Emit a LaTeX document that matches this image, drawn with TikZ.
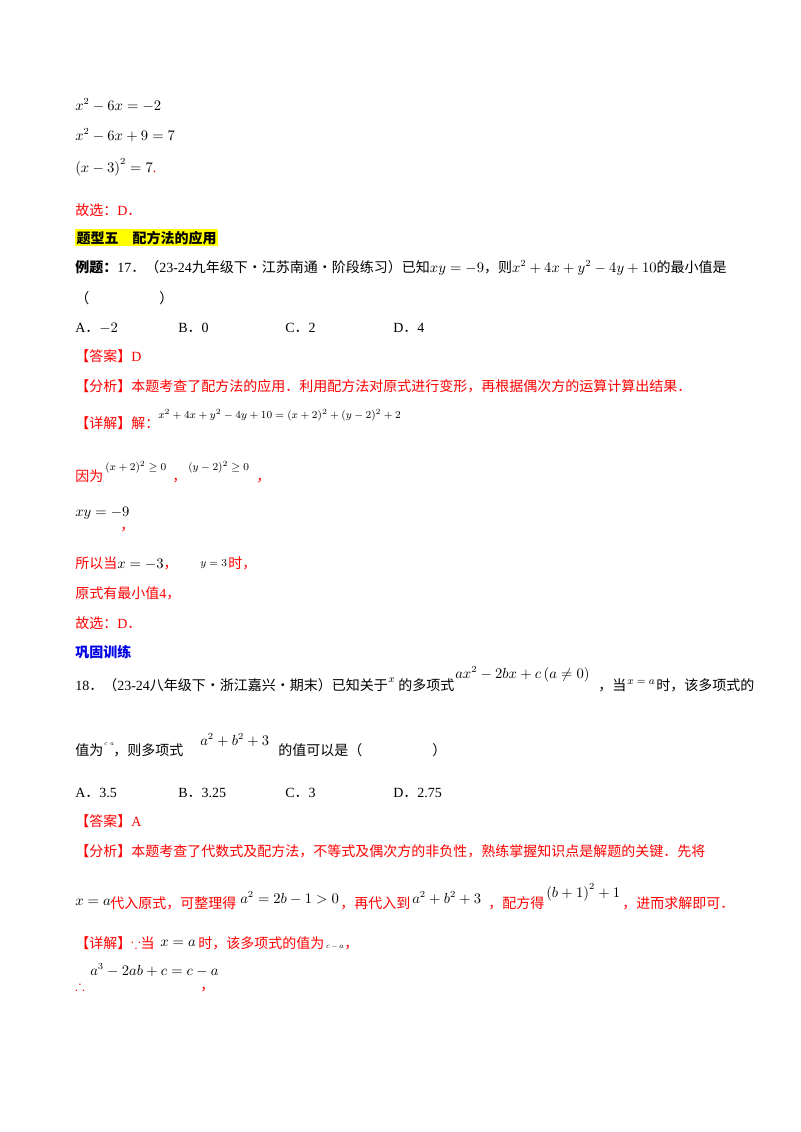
\documentclass[tikz,border=0pt]{standalone}
\usepackage{amssymb}
\usepackage{fontspec}
\setmainfont{Liberation Serif}
\newfontfamily\zh{Noto Sans CJK SC}
\newcommand\zp{{\zh ．}}
\newcommand\zcm{{\zh ，}}
\definecolor{rd}{RGB}{255,0,0}
\definecolor{bl}{RGB}{0,0,230}
\definecolor{hl}{RGB}{255,255,0}
\begin{document}
\begin{tikzpicture}[x=0.75pt,y=-0.75pt,
  t/.style={anchor=base west,inner sep=0pt,font=\fontsize{10.5}{12}\selectfont},
  s/.style={anchor=base west,inner sep=0pt,font=\fontsize{8}{10}\selectfont},
  r/.style={t,text=rd}]
\useasboundingbox (0,0) rectangle (800,1132);
\fill[white] (0,0) rectangle (800,1132);
\node[t] (l1) at (75,110) {$x^2-6x=-2$};
\node[t] (l2) at (75,140) {$x^2-6x+9=7$};
\node[t] (l3) at (75,172) {$\left(x-3\right)^2=7$\textcolor{rd}{.}};
\node[r] (g1) at (75,215) {{\zh 故选：}D\zp};
\node[t,fill=hl,inner sep=1pt] (h1) at (75,243) {\zh\bfseries 题型五\quad 配方法的应用};
\node[t] (q17) at (75,272) {{\zh\bfseries 例题：}17\zp{\zh （}23-24{\zh 九年级下・江苏南通・阶段练习）已知}$xy=-9${\zh ，则}$x^2+4x+y^2-4y+10${\zh 的最小值是}};
\node[t] (p17) at (75,303) {{\zh （}\hspace{5em}{\zh ）}};
\node[t] (a17) at (75,332) {A\zp$-2$};
\node[t] (b17) at (178,332) {B\zp 0};
\node[t] (c17) at (285,332) {C\zp 2};
\node[t] (d17) at (393,332) {D\zp 4};
\node[r] (ans17) at (75,361) {{\zh 【答案】}D};
\node[r] (fx17) at (75,391) {\zh 【分析】本题考查了配方法的应用．利用配方法对原式进行变形，再根据偶次方的运算计算出结果．};
\node[r] (xj17) at (75,428) {\zh 【详解】解：};
\node[s] (f17) at (158,418) {$x^2+4x+y^2-4y+10=(x+2)^2+(y-2)^2+2$};
\node[r] (yw) at (75,481) {\zh 因为};
\node[s] (f2) at (105,470) {$(x+2)^2\geq0$};
\node[r] (cm1) at (172,481) {\zcm};
\node[s] (f3) at (188,470) {$(y-2)^2\geq0$};
\node[r] (cm2) at (256,481) {\zcm};
\node[t] (xy) at (75,516) {$xy=-9$};
\node[r] (cm3) at (120,530) {\zcm};
\node[r] (sy) at (75,568) {{\zh 所以当}\textcolor{black}{$x=-3$}{\zh ，}};
\node[s] (y3) at (200,566) {$y=3$};
\node[r] (sh) at (228,568) {\zh 时，};
\node[r] (zx) at (75,598) {{\zh 原式有最小值}4{\zh ，}};
\node[r] (g2) at (75,628) {{\zh 故选：}D\zp};
\node[t,text=bl] (gg) at (75,657) {\zh\bfseries 巩固训练};
\node[t] (q18) at (75,690) {18\zp{\zh （}23-24{\zh 八年级下·浙江嘉兴·期末）已知关于}};
\node[s] (x18) at (388,682) {$x$};
\node[t] (dx) at (398,690) {\zh 的多项式};
\node[t] (f18) at (455,678) {$ax^2-2bx+c\left(a\neq0\right)$};
\node[t] (d18) at (598,690) {\zh ，当};
\node[s] (xa) at (627,684) {$x=a$};
\node[t] (s18) at (656,690) {\zh 时，该多项式的};
\node[t] (zw) at (75,755) {\zh 值为};
\node[s] (ca) at (104,745) {\scalebox{0.6}{$c\ \ a$}};
\node[t] (zd) at (113,755) {\zh ，则多项式};
\node[t] (ab) at (200,745) {$a^2+b^2+3$};
\node[t] (kz) at (278,755) {{\zh 的值可以是（}\hspace{5em}{\zh ）}};
\node[t] (a18) at (75,797) {A\zp 3.5};
\node[t] (b18) at (178,797) {B\zp 3.25};
\node[t] (c18) at (285,797) {C\zp 3};
\node[t] (d18b) at (393,797) {D\zp 2.75};
\node[r] (ans18) at (75,826) {{\zh 【答案】}A};
\node[r] (fx18) at (75,856) {\zh 【分析】本题考查了代数式及配方法，不等式及偶次方的非负性，熟练掌握知识点是解题的关键．先将};
\node[t] (xa2) at (75,905) {$x=a$};
\node[r] (dr) at (110,908) {\zh 代入原式，可整理得};
\node[t] (e1) at (240,903) {$a^2=2b-1>0$};
\node[r] (zd2) at (340,908) {\zh ，再代入到};
\node[t] (e2) at (412,903) {$a^2+b^2+3$};
\node[r] (pf) at (488,908) {\zh ，配方得};
\node[t] (e3) at (546,897) {$\left(b+1\right)^2+1$};
\node[r] (jr) at (622,908) {\zh ，进而求解即可．};
\node[r] (xj18) at (75,948) {{\zh 【详解】}$\because${\zh 当}};
\node[t] (xa3) at (160,946) {$x=a$};
\node[r] (sd) at (198,948) {\zh 时，该多项式的值为};
\node[s] (cma) at (326,948) {\scalebox{0.7}{$c-a$}};
\node[r] (cm4) at (344,948) {\zcm};
\node[r] (tf) at (75,990) {$\therefore$};
\node[t] (e4) at (90,975) {$a^3-2ab+c=c-a$};
\node[r] (cm5) at (200,990) {\zcm};
\end{tikzpicture}
\end{document}
